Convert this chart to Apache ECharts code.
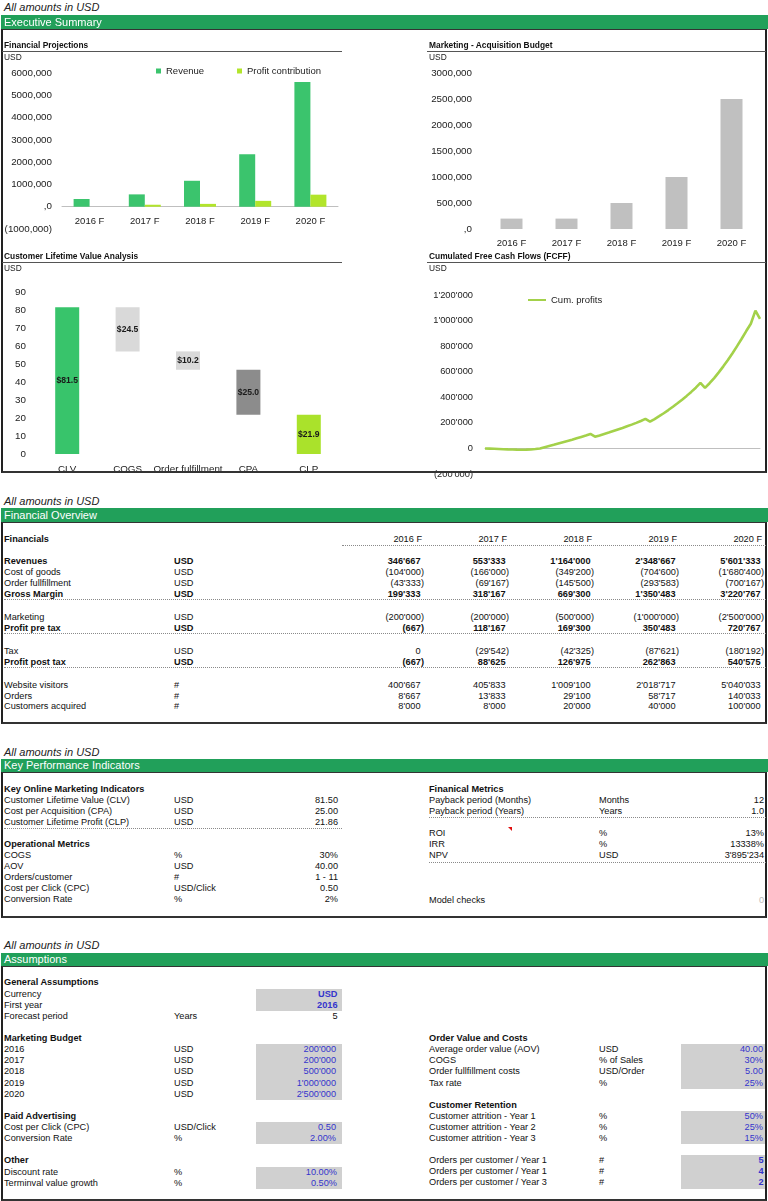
<!DOCTYPE html>
<html>
<head>
<meta charset="utf-8">
<title>Dashboard</title>
<script src="https://cdn.jsdelivr.net/npm/echarts/dist/echarts.min.js"></script>
<style>
  body { margin: 0; background: #fff; }
  #page { position: relative; width: 768px; height: 1201px; overflow: hidden;
          font-family: 'Liberation Sans', Arial, sans-serif; color: #111; }
  .abs { position: absolute; }
  .chart { position: absolute; }
</style>
</head>
<body>
<div id="page">
  <div id="chartProj" class="chart" style="left:0;top:62px;width:345px;height:180px;"></div>
  <div id="chartMkt" class="chart" style="left:384px;top:62px;width:382px;height:190px;"></div>
  <div id="chartClv" class="chart" style="left:0;top:270px;width:345px;height:201px;"></div>
  <div id="chartCash" class="chart" style="left:384px;top:270px;width:382px;height:212px;"></div>
</div>
<script>
  // ---- data ----
  var years = ['2016 F', '2017 F', '2018 F', '2019 F', '2020 F'];
  var revenue = [346667, 553333, 1164000, 2348667, 5601333];
  var profitContribution = [-667, 88625, 126975, 262863, 540575];
  var marketingBudget = [200000, 200000, 500000, 1000000, 2500000];

  var clvCats = ['CLV', 'COGS', 'Order fulfillment', 'CPA', 'CLP'];
  var clvValues = [81.5, 24.5, 10.2, 25.0, 21.86];
  var clvBase = [0, 57.0, 46.8, 21.86, 0];

  // cumulated profits, month 0 .. 60
  var cumProfits = [
    0, -1500, -3000, -4500, -6000, -7500, -8500, -9500, -10000, -9500, -8000, -5000, 0,
    10000, 19000, 28000, 38000, 48000, 58000, 68000, 79000, 90000, 101000, 113000, 92000,
    102000, 113000, 124000, 136000, 148000, 160000, 173000, 186000, 200000, 215000, 231000, 210000,
    230000, 252000, 275000, 300000, 326000, 353000, 381000, 411000, 442000, 475000, 512000, 474000,
    510000, 550000, 595000, 642000, 692000, 745000, 800000, 858000, 918000, 975000, 1078000, 1013000
  ];
  var monthCats = cumProfits.map(function (v, i) { return 'M' + i; });

  var finRows = [
    ['Revenues', 'USD', ["346'667", "553'333", "1'164'000", "2'348'667", "5'601'333"]],
    ['Cost of goods', 'USD', ["(104'000)", "(166'000)", "(349'200)", "(704'600)", "(1'680'400)"]],
    ['Order fullfillment', 'USD', ["(43'333)", "(69'167)", "(145'500)", "(293'583)", "(700'167)"]],
    ['Gross Margin', 'USD', ["199'333", "318'167", "669'300", "1'350'483", "3'220'767"]],
    ['Marketing', 'USD', ["(200'000)", "(200'000)", "(500'000)", "(1'000'000)", "(2'500'000)"]],
    ['Profit pre tax', 'USD', ["(667)", "118'167", "169'300", "350'483", "720'767"]],
    ['Tax', 'USD', ["0", "(29'542)", "(42'325)", "(87'621)", "(180'192)"]],
    ['Profit post tax', 'USD', ["(667)", "88'625", "126'975", "262'863", "540'575"]],
    ['Website visitors', '#', ["400'667", "405'833", "1'009'100", "2'018'717", "5'040'033"]],
    ['Orders', '#', ["8'667", "13'833", "29'100", "58'717", "140'033"]],
    ['Customers acquired', '#', ["8'000", "8'000", "20'000", "40'000", "100'000"]]
  ];
  var finBold = [true, false, false, true, false, true, false, true, false, false, false];

  var kpiOnline = [
    ['Customer Lifetime Value (CLV)', 'USD', '81.50'],
    ['Cost per Acquisition (CPA)', 'USD', '25.00'],
    ['Customer Lifetime Profit (CLP)', 'USD', '21.86']
  ];
  var kpiOps = [
    ['COGS', '%', '30%'],
    ['AOV', 'USD', '40.00'],
    ['Orders/customer', '#', '1 - 11'],
    ['Cost per Click (CPC)', 'USD/Click', '0.50'],
    ['Conversion Rate', '%', '2%']
  ];
  var kpiPayback = [
    ['Payback period (Months)', 'Months', '12'],
    ['Payback period (Years)', 'Years', '1.0']
  ];
  var kpiReturns = [
    ['ROI', '%', '13%'],
    ['IRR', '%', '13338%'],
    ['NPV', 'USD', "3'895'234"]
  ];

  var asGeneral = [['Currency', '', 'USD'], ['First year', '', '2016'], ['Forecast period', 'Years', '5']];
  var asMarketing = [['2016', 'USD', "200'000"], ['2017', 'USD', "200'000"], ['2018', 'USD', "500'000"],
                     ['2019', 'USD', "1'000'000"], ['2020', 'USD', "2'500'000"]];
  var asPaid = [['Cost per Click (CPC)', 'USD/Click', '0.50'], ['Conversion Rate', '%', '2.00%']];
  var asOther = [['Discount rate', '%', '10.00%'], ['Terminval value growth', '%', '0.50%']];
  var asOrder = [['Average order value (AOV)', 'USD', '40.00'], ['COGS', '% of Sales', '30%'],
                 ['Order fullfillment costs', 'USD/Order', '5.00'], ['Tax rate', '%', '25%']];
  var asRetention = [['Customer attrition - Year 1', '%', '50%'], ['Customer attrition - Year 2', '%', '25%'],
                     ['Customer attrition - Year 3', '%', '15%']];
  var asOrders = [['Orders per customer / Year 1', '#', '5'], ['Orders per customer / Year 1', '#', '4'],
                  ['Orders per customer / Year 3', '#', '2']];

  // ---- page helpers ----
  var page = document.getElementById('page');
  var GREEN = '#21a05a';
  var INPUT_BG = '#d0d0d0';
  var BLUE = '#3434cc';

  function T(x, y, s, o) {
    o = o || {};
    var size = o.size || 9.2;
    var lh = Math.round(size * 1.2);
    var d = document.createElement('div');
    d.className = 'abs';
    d.textContent = s;
    d.style.whiteSpace = 'nowrap';
    d.style.fontSize = size + 'px';
    d.style.lineHeight = lh + 'px';
    d.style.top = (y - lh / 2) + 'px';
    if (o.align === 'right') d.style.right = (768 - x) + 'px';
    else d.style.left = x + 'px';
    if (o.bold) d.style.fontWeight = 'bold';
    if (o.italic) d.style.fontStyle = 'italic';
    d.style.color = o.color || '#111';
    d.style.zIndex = 3;
    page.appendChild(d);
  }
  function box(x, y, w, h, css) {
    var d = document.createElement('div');
    d.className = 'abs';
    d.style.left = x + 'px'; d.style.top = y + 'px';
    d.style.width = w + 'px'; d.style.height = h + 'px';
    for (var k in css) d.style[k] = css[k];
    page.appendChild(d);
    return d;
  }
  function dotted(x1, x2, y) {
    box(x1, y, x2 - x1, 0, { borderTop: '1px dotted #8a8a8a', zIndex: 2 });
  }
  function solid(x1, x2, y) {
    box(x1, y, x2 - x1, 1, { background: '#555', zIndex: 2 });
  }

  // sections: note line, green bar, framed box
  function section(title, noteY, barTop, barBottom, boxBottom) {
    T(4, noteY, 'All amounts in USD', { italic: true, size: 11, color: '#222' });
    box(1, barTop, 767, barBottom - barTop, { background: GREEN, zIndex: 1 });
    T(4, (barTop + barBottom) / 2, title, { size: 11, color: '#fff' });
    box(1, barBottom, 762, boxBottom - barBottom - 2,
        { borderLeft: '2px solid #222', borderRight: '2px solid #222', borderBottom: '2px solid #333',
          borderTop: '1px solid #333', zIndex: 2, boxSizing: 'content-box' });
  }
  section('Executive Summary', 7, 15, 29, 472);
  section('Financial Overview', 501, 508, 522, 723);
  section('Key Performance Indicators', 752, 759, 772, 917);
  section('Assumptions', 945, 953, 966, 1200);

  // chart headings
  function chartHead(x1, x2, y, title) {
    T(x1 + 2, y, title, { bold: true, size: 8.4 });
    solid(x1, x2, y + 6);
    T(x1 + 2, y + 11.5, 'USD', { size: 8.4, color: '#222' });
  }
  chartHead(2, 342, 45, 'Financial Projections');
  chartHead(427, 766, 45, 'Marketing - Acquisition Budget');
  chartHead(2, 342, 256, 'Customer Lifetime Value Analysis');
  chartHead(427, 766, 256, 'Cumulated Free Cash Flows (FCFF)');

  // ---- Financial overview table ----
  var colRight = [424, 509, 594, 679, 764];
  var finY = [561, 572, 583, 594, 617, 628, 651, 662, 685, 696, 706.5];
  var finLineAfter = [3, 5, 7];
  T(4, 539.5, 'Financials', { bold: true });
  years.forEach(function (yr, i) { T(colRight[i] - 2, 539.5, yr, { align: 'right' }); });
  dotted(342, 766, 545);
  finRows.forEach(function (r, i) {
    var b = finBold[i];
    T(4, finY[i], r[0], { bold: b });
    T(174, finY[i], r[1], { bold: b });
    r[2].forEach(function (v, j) {
      var xr = v.charAt(v.length - 1) === ')' ? colRight[j] : colRight[j] - 3.5;
      T(xr, finY[i], v, { align: 'right', bold: b });
    });
  });
  finLineAfter.forEach(function (i) { dotted(4, 766, finY[i] + 4.5); });

  // ---- KPI ----
  function rows(list, x, unitX, valX, y0, step, o) {
    list.forEach(function (r, i) {
      var y = y0 + i * step;
      T(x, y, r[0]);
      if (r[1]) T(unitX, y, r[1]);
      T(valX, y, r[2], o ? o(i) : { align: 'right' });
    });
  }
  var STEP = 11.1;
  T(4, 789, 'Key Online Marketing Indicators', { bold: true });
  rows(kpiOnline, 4, 174, 338, 800.3, STEP);
  dotted(4, 342, 827.5);
  T(4, 844.3, 'Operational Metrics', { bold: true });
  rows(kpiOps, 4, 174, 338, 855.5, STEP);

  T(429, 789, 'Finanical Metrics', { bold: true });
  rows(kpiPayback, 429, 599, 764, 800.3, STEP);
  dotted(429, 766, 816.5);
  rows(kpiReturns, 429, 599, 764, 833.7, STEP);
  dotted(429, 766, 861.5);
  T(429, 900, 'Model checks');
  T(764, 900, '0', { align: 'right', color: '#bbb' });
  box(508, 827, 0, 0, { borderLeft: '4px solid transparent', borderTop: '4px solid #e01010', zIndex: 3 });

  // ---- Assumptions ----
  function inputBox(x1, x2, y1, y2) { box(x1, y1, x2 - x1, y2 - y1, { background: INPUT_BG, zIndex: 1 }); }
  inputBox(256, 342, 989, 1011);
  inputBox(256, 342, 1044, 1100);
  inputBox(256, 342, 1122, 1144);
  inputBox(256, 342, 1166.5, 1188.5);
  inputBox(681, 766, 1044, 1089);
  inputBox(681, 766, 1111, 1144);
  inputBox(681, 766, 1155, 1189);

  function blue(bold) { return function () { return { align: 'right', color: BLUE, bold: bold }; }; }
  T(4, 982.7, 'General Assumptions', { bold: true });
  rows(asGeneral, 4, 174, 337.5, 994, 11.3, function (i) {
    return i < 2 ? { align: 'right', color: BLUE, bold: true } : { align: 'right' };
  });
  T(4, 1038.7, 'Marketing Budget', { bold: true });
  rows(asMarketing, 4, 174, 336, 1049.7, STEP, blue(false));
  T(4, 1116, 'Paid Advertising', { bold: true });
  rows(asPaid, 4, 174, 336, 1127.3, 11.3, blue(false));
  T(4, 1160.7, 'Other', { bold: true });
  rows(asOther, 4, 174, 337, 1172, STEP, blue(false));

  T(429, 1038.7, 'Order Value and Costs', { bold: true });
  rows(asOrder, 429, 599, 763, 1049.7, STEP, blue(false));
  T(429, 1105, 'Customer Retention', { bold: true });
  rows(asRetention, 429, 599, 763, 1116, 11.3, blue(false));
  rows(asOrders, 429, 599, 763.5, 1160.7, STEP, blue(true));

  // ---- charts ----
  var FONT = 'Liberation Sans';
  function kFmt(v) {
    if (v === 0) return ',0';
    if (v < 0) return '(' + (-v / 1000) + ',000)';
    return (v / 1000) + ',000';
  }
  function aposFmt(v) {
    var s = String(Math.abs(v)).replace(/\B(?=(\d{3})+(?!\d))/g, "'");
    return v < 0 ? '(' + s + ')' : s;
  }

  var chartProj = echarts.init(document.getElementById('chartProj'));
  chartProj.setOption({
    animation: false,
    textStyle: { fontFamily: FONT },
    legend: {
      left: 151, top: -1, icon: 'rect', itemWidth: 5, itemHeight: 5, itemGap: 33,
      textStyle: { fontSize: 9.5, color: '#222', fontFamily: FONT },
      data: ['Revenue', 'Profit contribution']
    },
    grid: { left: 62, right: 7, top: 11, bottom: 13, containLabel: false, outerBoundsMode: 'none' },
    xAxis: {
      type: 'category', data: years,
      axisLine: { onZero: true, lineStyle: { color: '#bfbfbf' } }, axisTick: { show: false },
      // labels sit just under the zero line, as in the sheet
      axisLabel: { color: '#222', fontSize: 9.5, margin: -13 }
    },
    yAxis: {
      type: 'value', min: -1000000, max: 6000000, interval: 1000000,
      splitLine: { show: false },
      axisLabel: { formatter: kFmt, color: '#222', fontSize: 9.8, margin: 10 }
    },
    series: [
      { name: 'Revenue', type: 'bar', data: revenue, barWidth: 16, barGap: '0%',
        itemStyle: { color: '#3bc46d' } },
      { name: 'Profit contribution', type: 'bar', data: profitContribution, barWidth: 16,
        itemStyle: { color: '#b2e52b' } }
    ]
  });

  var chartMkt = echarts.init(document.getElementById('chartMkt'));
  chartMkt.setOption({
    animation: false,
    textStyle: { fontFamily: FONT },
    grid: { left: 100, right: 7, top: 11, bottom: 23, containLabel: false, outerBoundsMode: 'none' },
    xAxis: {
      type: 'category', data: years,
      axisLine: { show: false }, axisTick: { show: false },
      axisLabel: { color: '#222', fontSize: 9.5, margin: 9 }
    },
    yAxis: {
      type: 'value', min: 0, max: 3000000, interval: 500000,
      splitLine: { show: false },
      axisLabel: { formatter: kFmt, color: '#222', fontSize: 9.8, margin: 12 }
    },
    series: [
      { name: 'Marketing', type: 'bar', data: marketingBudget, barWidth: 22,
        itemStyle: { color: '#c0c0c0' } }
    ]
  });

  var clvColors = ['#38c46b', '#d9d9d9', '#d9d9d9', '#8c8c8c', '#aae22b'];
  var chartClv = echarts.init(document.getElementById('chartClv'));
  chartClv.setOption({
    animation: false,
    textStyle: { fontFamily: FONT },
    grid: { left: 37, right: 6, top: 22, bottom: 17, containLabel: false, outerBoundsMode: 'none' },
    xAxis: {
      type: 'category', data: clvCats,
      axisLine: { show: false }, axisTick: { show: false },
      axisLabel: { color: '#222', fontSize: 9.8, margin: 10, interval: 0 }
    },
    yAxis: {
      type: 'value', min: 0, max: 90, interval: 10,
      splitLine: { show: false },
      axisLabel: { color: '#222', fontSize: 9.8, margin: 11 }
    },
    series: [
      { name: 'base', type: 'bar', stack: 'w', data: clvBase, barWidth: 24,
        itemStyle: { color: 'rgba(0,0,0,0)' }, silent: true },
      { name: 'value', type: 'bar', stack: 'w', barWidth: 24,
        data: clvValues.map(function (v, i) { return { value: v, itemStyle: { color: clvColors[i] } }; }),
        label: {
          show: true, position: 'inside', color: '#1a1a1a', fontWeight: 'bold', fontSize: 8.6,
          formatter: function (p) { return '$' + p.value.toFixed(1); }
        } }
    ]
  });

  var chartCash = echarts.init(document.getElementById('chartCash'));
  chartCash.setOption({
    animation: false,
    textStyle: { fontFamily: FONT },
    legend: {
      left: 139, top: 20, itemWidth: 18, itemHeight: 2, itemGap: 10,
      textStyle: { fontSize: 9.5, color: '#222', fontFamily: FONT },
      data: [{ name: 'Cum. profits', icon: 'rect' }]
    },
    grid: { left: 101, right: 6, top: 25, bottom: 8, containLabel: false, outerBoundsMode: 'none' },
    xAxis: {
      type: 'category', data: monthCats, boundaryGap: false,
      axisLine: { lineStyle: { color: '#bfbfbf' } }, axisTick: { show: false },
      axisLabel: { show: false }
    },
    yAxis: {
      type: 'value', min: -200000, max: 1200000, interval: 200000,
      splitLine: { show: false },
      axisLabel: { formatter: aposFmt, color: '#222', fontSize: 9.3, margin: 12 }
    },
    series: [
      { name: 'Cum. profits', type: 'line', data: cumProfits, symbol: 'none',
        lineStyle: { color: '#a3d14a', width: 2.6 }, itemStyle: { color: '#a3d14a' } }
    ]
  });
</script>
</body>
</html>
